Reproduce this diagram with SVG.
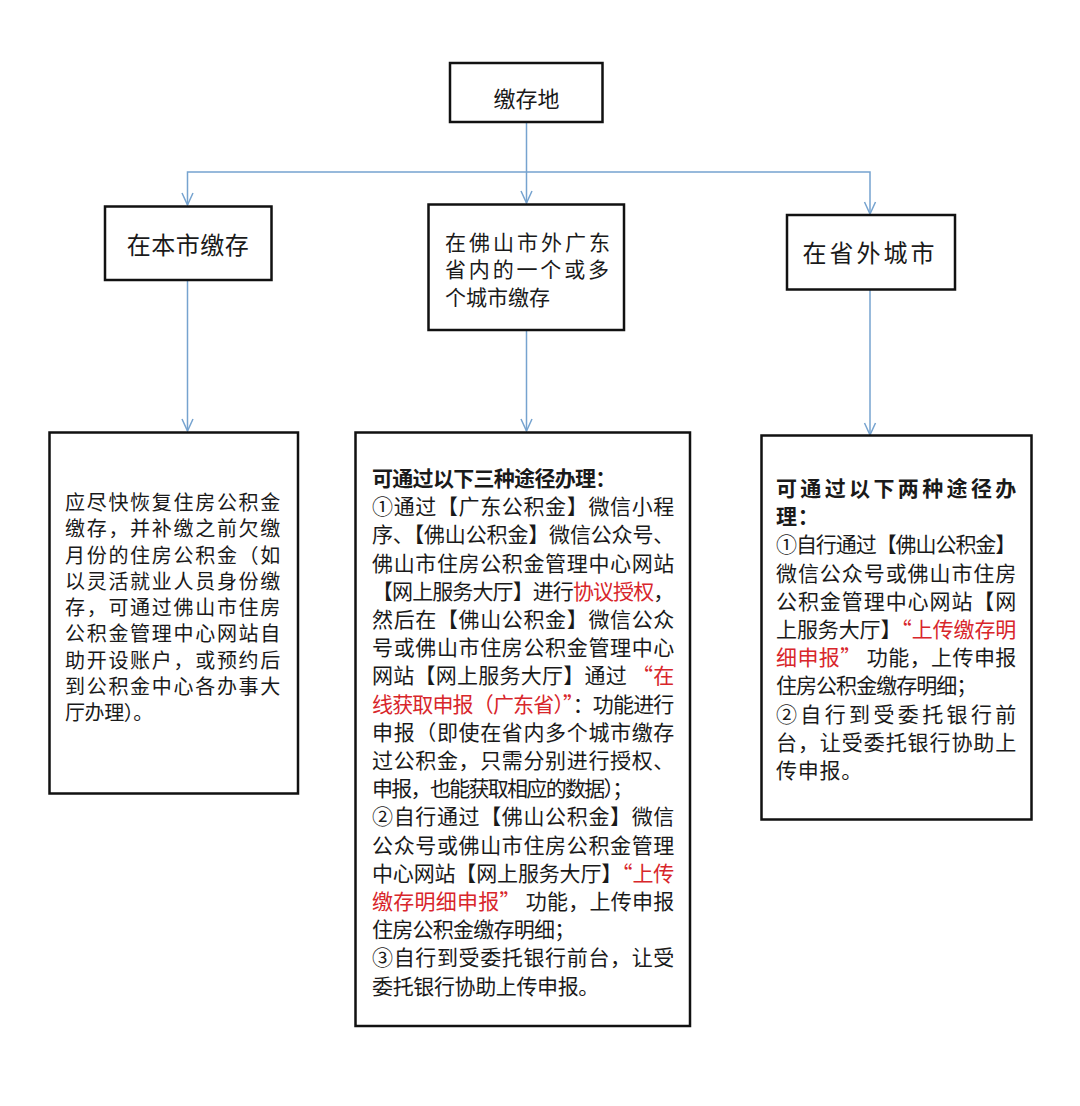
<svg xmlns="http://www.w3.org/2000/svg" width="1080" height="1106" viewBox="0 0 1080 1106">
  <style>
    .box { fill: #ffffff; stroke: #111111; stroke-width: 2.5; }
    .t { font-family: "Noto Sans CJK SC", "Noto Sans", sans-serif; fill: #1a1a1a; }
    .s { font-size: 21px; letter-spacing: 0.7px; }
    .sl { font-size: 20px; letter-spacing: 1.7px; }
    .hd { font-weight: bold; }
    .r { fill: #d8262b; }
    .conn { fill: none; stroke: #76a3cf; stroke-width: 1.5; }
  </style>
  <defs>
    <marker id="arr" markerUnits="userSpaceOnUse" markerWidth="16" markerHeight="16" viewBox="-14 -8 16 16" refX="0" refY="0" orient="auto">
      <path d="M-12,-5.5 L0,0 L-12,5.5" fill="none" stroke="#76a3cf" stroke-width="1.5"/>
    </marker>
  </defs>
  <rect width="1080" height="1106" fill="#ffffff"/>

  <g id="connectors">
    <path class="conn" d="M526.5,122 V203" marker-end="url(#arr)"/>
    <path class="conn" d="M526.5,172 H187.5 V205" marker-end="url(#arr)"/>
    <path class="conn" d="M526.5,172 H870 V214" marker-end="url(#arr)"/>
    <path class="conn" d="M187.5,280 V431" marker-end="url(#arr)"/>
    <path class="conn" d="M526.5,330 V431" marker-end="url(#arr)"/>
    <path class="conn" d="M870,289 V435" marker-end="url(#arr)"/>
  </g>

  <g id="node-root">
    <rect class="box" x="450" y="63" width="152.5" height="59"/>
    <text class="t" x="526.5" y="107" font-size="22" text-anchor="middle">缴存地</text>
  </g>

  <g id="node-local">
    <rect class="box" x="105" y="206.5" width="166.5" height="73.5"/>
    <text class="t" x="188" y="254" font-size="24" letter-spacing="0.5" text-anchor="middle">在本市缴存</text>
  </g>

  <g id="node-guangdong">
    <rect class="box" x="428.5" y="204.5" width="195.5" height="125.5"/>
    <text class="t" x="445" y="249.5" font-size="21" textLength="165" lengthAdjust="spacing">在佛山市外广东</text>
    <text class="t" x="445" y="277" font-size="21" textLength="164" lengthAdjust="spacing">省内的一个或多</text>
    <text class="t" x="445" y="304.5" font-size="21">个城市缴存</text>
  </g>

  <g id="node-outside">
    <rect class="box" x="787" y="215" width="168" height="74.5"/>
    <text class="t" x="870" y="262" font-size="24" letter-spacing="3" text-anchor="middle">在省外城市</text>
  </g>

  <g id="node-local-detail">
    <rect class="box" x="49.5" y="432.5" width="248.5" height="361"/>
    <text class="t sl" x="65" y="510" textLength="217" lengthAdjust="spacing">应尽快恢复住房公积金</text>
    <text class="t sl" x="65" y="536.3" textLength="217" lengthAdjust="spacing">缴存，并补缴之前欠缴</text>
    <text class="t sl" x="65" y="562.5" textLength="217" lengthAdjust="spacing">月份的住房公积金（如</text>
    <text class="t sl" x="65" y="588.8" textLength="217" lengthAdjust="spacing">以灵活就业人员身份缴</text>
    <text class="t sl" x="65" y="615" textLength="217" lengthAdjust="spacing">存，可通过佛山市住房</text>
    <text class="t sl" x="65" y="641.3" textLength="217" lengthAdjust="spacing">公积金管理中心网站自</text>
    <text class="t sl" x="65" y="667.5" textLength="217" lengthAdjust="spacing">助开设账户，或预约后</text>
    <text class="t sl" x="65" y="693.8" textLength="217" lengthAdjust="spacing">到公积金中心各办事大</text>
    <text class="t sl" x="65" y="720" textLength="90" lengthAdjust="spacing">厅办理）。</text>
  </g>

  <g id="node-guangdong-detail">
    <rect class="box" x="355.5" y="432.5" width="334.5" height="593.5"/>
    <text class="t s hd" x="372" y="486" textLength="245" lengthAdjust="spacing">可通过以下三种途径办理：</text>
    <text class="t s" x="372" y="514.2" textLength="303" lengthAdjust="spacing">①通过【广东公积金】微信小程</text>
    <text class="t s" x="372" y="542.4" textLength="303" lengthAdjust="spacing">序、【佛山公积金】微信公众号、</text>
    <text class="t s" x="372" y="570.6" textLength="303" lengthAdjust="spacing">佛山市住房公积金管理中心网站</text>
    <text class="t s" x="372" y="598.8" textLength="303" lengthAdjust="spacing">【网上服务大厅】进行<tspan class="r">协议授权</tspan>，</text>
    <text class="t s" x="372" y="627" textLength="303" lengthAdjust="spacing">然后在【佛山公积金】微信公众</text>
    <text class="t s" x="372" y="655.2" textLength="303" lengthAdjust="spacing">号或佛山市住房公积金管理中心</text>
    <text class="t s" x="372" y="683.4" textLength="303" lengthAdjust="spacing">网站【网上服务大厅】通过 <tspan class="r">“在</tspan></text>
    <text class="t s" x="372" y="711.6" textLength="303" lengthAdjust="spacing"><tspan class="r">线获取申报（广东省）”</tspan>：功能进行</text>
    <text class="t s" x="372" y="739.8" textLength="303" lengthAdjust="spacing">申报（即使在省内多个城市缴存</text>
    <text class="t s" x="372" y="768" textLength="303" lengthAdjust="spacing">过公积金，只需分别进行授权、</text>
    <text class="t s" x="372" y="796.2" textLength="262" lengthAdjust="spacing">申报，也能获取相应的数据）；</text>
    <text class="t s" x="372" y="824.4" textLength="303" lengthAdjust="spacing">②自行通过【佛山公积金】微信</text>
    <text class="t s" x="372" y="852.6" textLength="303" lengthAdjust="spacing">公众号或佛山市住房公积金管理</text>
    <text class="t s" x="372" y="880.8" textLength="303" lengthAdjust="spacing">中心网站【网上服务大厅】<tspan class="r">“上传</tspan></text>
    <text class="t s" x="372" y="909" textLength="303" lengthAdjust="spacing"><tspan class="r">缴存明细申报”</tspan> 功能，上传申报</text>
    <text class="t s" x="372" y="937.2" textLength="204" lengthAdjust="spacing">住房公积金缴存明细；</text>
    <text class="t s" x="372" y="965.4" textLength="303" lengthAdjust="spacing">③自行到受委托银行前台，让受</text>
    <text class="t s" x="372" y="993.6" textLength="228" lengthAdjust="spacing">委托银行协助上传申报。</text>
  </g>

  <g id="node-outside-detail">
    <rect class="box" x="761.5" y="435.5" width="270" height="384"/>
    <text class="t s hd" x="776" y="496" textLength="241" lengthAdjust="spacing">可通过以下两种途径办</text>
    <text class="t s hd" x="776" y="524.2">理：</text>
    <text class="t s" x="776" y="552.4" textLength="241" lengthAdjust="spacing">①自行通过【佛山公积金】</text>
    <text class="t s" x="776" y="580.6" textLength="241" lengthAdjust="spacing">微信公众号或佛山市住房</text>
    <text class="t s" x="776" y="608.8" textLength="241" lengthAdjust="spacing">公积金管理中心网站【网</text>
    <text class="t s" x="776" y="637" textLength="241" lengthAdjust="spacing">上服务大厅】<tspan class="r">“上传缴存明</tspan></text>
    <text class="t s" x="776" y="665.2" textLength="241" lengthAdjust="spacing"><tspan class="r">细申报”</tspan> 功能，上传申报</text>
    <text class="t s" x="776" y="693.4" textLength="202" lengthAdjust="spacing">住房公积金缴存明细；</text>
    <text class="t s" x="776" y="721.6" textLength="241" lengthAdjust="spacing">②自行到受委托银行前</text>
    <text class="t s" x="776" y="749.8" textLength="241" lengthAdjust="spacing">台，让受委托银行协助上</text>
    <text class="t s" x="776" y="778" textLength="87" lengthAdjust="spacing">传申报。</text>
  </g>
</svg>
